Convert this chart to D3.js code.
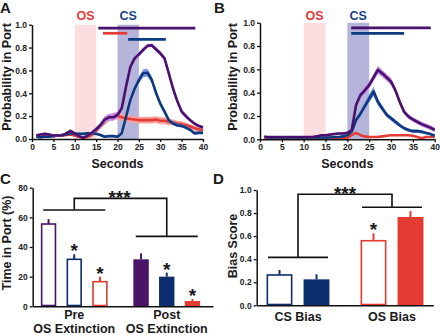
<!DOCTYPE html>
<html><head><meta charset="utf-8">
<script src="https://cdn.jsdelivr.net/npm/d3@7"></script>
<style>body{margin:0;background:#fff}svg{display:block}</style>
</head><body><svg id="c" width="440" height="335"></svg>
<script>
// ---------- DATA ----------
const seconds = [1,2,3,4,5,6,7,8,9,10,11,12,13,14,15,16,17,18,19,20,21,22,23,24,25,26,27,28,29,30,31,32,33,34,35,36,37,38,39,40];
const xTicks = [0,5,10,15,20,25,30,35,40];
const probTicks = [0,0.2,0.4,0.6,0.8,1.0];
const shadeLabels = ["OS","CS"];
const shadeStarts = [10,20];
const shadeEnds = [15,25];

// Panel A
const aPurple = [0.03,0.04,0.045,0.04,0.03,0.03,0.03,0.05,0.07,0.05,0.025,0.01,0.03,0.055,0.085,0.12,0.17,0.19,0.19,0.21,0.27,0.46,0.63,0.705,0.74,0.78,0.815,0.82,0.785,0.75,0.705,0.575,0.44,0.33,0.24,0.2,0.165,0.135,0.115,0.1];
const aPurpleSem = [0.01,0.01,0.01,0.01,0.01,0.01,0.01,0.01,0.015,0.01,0.01,0.01,0.01,0.015,0.02,0.025,0.03,0.03,0.03,0.03,0.03,0.03,0.025,0.02,0.02,0.02,0.015,0.015,0.02,0.02,0.02,0.02,0.025,0.02,0.02,0.02,0.015,0.015,0.015,0.015];
const aBlue = [0.02,0.015,0.02,0.02,0.025,0.03,0.035,0.04,0.05,0.045,0.045,0.045,0.05,0.05,0.045,0.035,0.02,0.025,0.025,0.02,0.05,0.195,0.34,0.44,0.515,0.575,0.58,0.52,0.405,0.31,0.24,0.165,0.135,0.12,0.115,0.1,0.08,0.05,0.055,0.055];
const aBlueSem = [0.01,0.01,0.01,0.01,0.01,0.01,0.01,0.01,0.01,0.01,0.01,0.01,0.01,0.01,0.01,0.01,0.01,0.01,0.01,0.01,0.01,0.015,0.02,0.025,0.03,0.035,0.035,0.03,0.025,0.02,0.02,0.015,0.015,0.015,0.015,0.015,0.015,0.015,0.015,0.015];
const aRed = [0.035,0.03,0.03,0.03,0.025,0.03,0.03,0.035,0.04,0.03,0.02,0.01,0.02,0.035,0.07,0.11,0.15,0.185,0.2,0.2,0.19,0.18,0.175,0.17,0.165,0.165,0.165,0.165,0.17,0.16,0.16,0.15,0.145,0.135,0.13,0.12,0.11,0.095,0.085,0.08];
const aRedSem = [0.01,0.01,0.01,0.01,0.01,0.01,0.01,0.01,0.01,0.01,0.01,0.01,0.01,0.01,0.015,0.02,0.025,0.03,0.03,0.03,0.03,0.03,0.03,0.03,0.03,0.03,0.03,0.03,0.03,0.03,0.03,0.03,0.025,0.025,0.025,0.025,0.02,0.02,0.02,0.02];
const aSigStart = [15.5,16.6,22.5];
const aSigEnd = [38.2,22.3,31.3];
const aSigLevel = [0.97,0.925,0.872];
const aSigSeries = ["purple","red","blue"];

// Panel B
const bPurple = [0.017,0.02,0.02,0.02,0.02,0.02,0.02,0.02,0.02,0.02,0.02,0.02,0.025,0.035,0.035,0.04,0.045,0.05,0.05,0.055,0.08,0.295,0.38,0.42,0.465,0.53,0.595,0.565,0.53,0.495,0.42,0.32,0.235,0.195,0.17,0.15,0.13,0.115,0.1,0.08];
const bPurpleSem = [0.008,0.008,0.008,0.008,0.008,0.008,0.008,0.008,0.008,0.008,0.008,0.008,0.008,0.008,0.008,0.008,0.008,0.01,0.01,0.01,0.01,0.02,0.025,0.03,0.03,0.03,0.035,0.03,0.03,0.03,0.025,0.025,0.02,0.02,0.02,0.02,0.02,0.02,0.02,0.02];
const bBlue = [0.025,0.015,0.015,0.015,0.015,0.015,0.015,0.015,0.015,0.015,0.015,0.015,0.015,0.015,0.015,0.015,0.02,0.02,0.025,0.035,0.065,0.165,0.22,0.285,0.35,0.41,0.32,0.265,0.21,0.18,0.15,0.12,0.095,0.08,0.07,0.07,0.065,0.055,0.045,0.03];
const bBlueSem = [0.008,0.008,0.008,0.008,0.008,0.008,0.008,0.008,0.008,0.008,0.008,0.008,0.008,0.008,0.008,0.008,0.008,0.008,0.008,0.008,0.01,0.02,0.025,0.03,0.035,0.04,0.03,0.025,0.02,0.02,0.02,0.015,0.015,0.015,0.015,0.015,0.015,0.01,0.01,0.01];
const bRed = [0.01,0.01,0.01,0.01,0.01,0.01,0.01,0.01,0.01,0.01,0.01,0.01,0.01,0.01,0.01,0.01,0.01,0.01,0.01,0.012,0.035,0.055,0.035,0.025,0.02,0.02,0.02,0.025,0.03,0.035,0.035,0.035,0.035,0.035,0.03,0.02,0.01,0.02,0.02,0.02];
const bRedSem = [0.006,0.006,0.006,0.006,0.006,0.006,0.006,0.006,0.006,0.006,0.006,0.006,0.006,0.006,0.006,0.006,0.006,0.006,0.006,0.006,0.006,0.006,0.006,0.006,0.006,0.006,0.006,0.006,0.006,0.006,0.006,0.006,0.006,0.006,0.006,0.006,0.006,0.006,0.006,0.006];
const bSigStart = [20.9,20.9];
const bSigEnd = [39.1,33.0];
const bSigLevel = [0.955,0.909];
const bSigSeries = ["purple","blue"];

// Panel C
const cGroups = ["Pre","Post"];
const cGroupSub = "OS Extinction";
const cSeries = ["purple","blue","red"];
const cPre = [55.5,31.7,16.6];
const cPreErr = [3.3,3.4,3.4];
const cPost = [31.7,20,3.6];
const cPostErr = [4,2.7,1.3];
const cPreStar = [false,true,true];
const cPostStar = [false,true,true];
const cTicks = [0,20,40,60,80];
const cBracketLevels = [65,47.2];
const cBracketTop = 72.8;

// Panel D
const dGroups = ["CS Bias","OS Bias"];
const dCats = ["pre","post"];
const dCS = [0.263,0.225];
const dCSErr = [0.043,0.044];
const dOS = [0.56,0.766];
const dOSErr = [0.064,0.052];
const dCSStar = [false,false];
const dOSStar = [true,false];
const dTicks = [0,0.2,0.4,0.6,0.8,1.0];
const dBracketLevels = [0.416,0.85];
const dBracketTop = 0.963;

// ---------- STYLE ----------
const FONT = '"Liberation Sans", Arial, Helvetica, sans-serif';
const col = {
  purple:{line:"#4a106e", band:"#c48ae8", bar:"#4a1468"},
  blue:{line:"#0d3a7e", band:"#7d93e6", bar:"#0d2e6e"},
  red:{line:"#e53b35", band:"#f5a3a0", bar:"#e33b31"}
};
const shadeColors = ["#fcdde0","#b5b4da"];
const shadeTextColors = ["#e8393a","#1b3f86"];

const svg = d3.select("#c");

function styleAxis(g){
  g.select(".domain").attr("stroke","#111").attr("stroke-width",1.5);
  g.selectAll(".tick line").attr("stroke","#111").attr("stroke-width",1.3);
  g.selectAll(".tick text").attr("font-size",8.5).attr("font-weight","bold")
    .attr("font-family",FONT).attr("fill","#222");
}
function txt(x,y,s,size,opts={}){
  const t = svg.append("text").attr("x",x).attr("y",y).text(s)
    .attr("font-family",FONT).attr("font-weight","bold").attr("font-size",size)
    .attr("fill",opts.fill||"#1a1a1a").attr("text-anchor",opts.anchor||"middle");
  if(opts.rotate) t.attr("transform",`rotate(-90,${x},${y})`);
  return t;
}

// ---------- LINE PANELS ----------
function linePanel(cfg){
  const x = d3.scaleLinear().domain([0,40]).range(cfg.xr);
  const y = d3.scaleLinear().domain([0,1]).range(cfg.yr);
  const g = svg.append("g");
  shadeStarts.forEach((s,i)=>{
    g.append("rect").attr("x",x(s)).attr("width",x(shadeEnds[i])-x(s))
      .attr("y",y(1)).attr("height",y(0)-y(1)).attr("fill",shadeColors[i]);
    txt((x(s)+x(shadeEnds[i]))/2, 20, shadeLabels[i], 12.5, {fill:shadeTextColors[i]});
  });
  cfg.series.forEach(s=>{
    const area = d3.area().x((d,i)=>x(seconds[i]))
      .y0((d,i)=>y(Math.max(0,s.v[i]-s.e[i]))).y1((d,i)=>y(s.v[i]+s.e[i]));
    g.append("path").datum(s.v).attr("d",area).attr("fill",col[s.key].band);
    const line = d3.line().x((d,i)=>x(seconds[i])).y(d=>y(d));
    g.append("path").datum(s.v).attr("d",line).attr("fill","none")
      .attr("stroke",col[s.key].line).attr("stroke-width",2.6).attr("stroke-linejoin","round");
  });
  cfg.sigStart.forEach((s,i)=>{
    g.append("line").attr("x1",x(s)).attr("x2",x(cfg.sigEnd[i]))
      .attr("y1",y(cfg.sigLevel[i])).attr("y2",y(cfg.sigLevel[i]))
      .attr("stroke",col[cfg.sigSeries[i]].line).attr("stroke-width",2.7);
  });
  const ya = g.append("g").attr("transform",`translate(${cfg.xr[0]},0)`)
    .call(d3.axisLeft(y).tickValues(probTicks).tickSize(3).tickSizeOuter(0).tickPadding(2).tickFormat(d3.format(".1f")));
  styleAxis(ya);
  const xa = g.append("g").attr("transform",`translate(0,${cfg.yr[0]})`)
    .call(d3.axisBottom(x).tickValues(xTicks).tickSize(3).tickSizeOuter(0).tickPadding(2));
  styleAxis(xa);
  txt((cfg.xr[0]+cfg.xr[1])/2, 168, "Seconds", 12.5);
  txt(cfg.titleX, 77, "Probability in Port", 12.5, {rotate:true});
}

linePanel({xr:[32,203], yr:[139,24.7], titleX:10.5,
  series:[{key:"red",v:aRed,e:aRedSem},{key:"blue",v:aBlue,e:aBlueSem},{key:"purple",v:aPurple,e:aPurpleSem}],
  sigStart:aSigStart, sigEnd:aSigEnd, sigLevel:aSigLevel, sigSeries:aSigSeries});
linePanel({xr:[260,434.7], yr:[139.3,22.7], titleX:237,
  series:[{key:"red",v:bRed,e:bRedSem},{key:"blue",v:bBlue,e:bBlueSem},{key:"purple",v:bPurple,e:bPurpleSem}],
  sigStart:bSigStart, sigEnd:bSigEnd, sigLevel:bSigLevel, sigSeries:bSigSeries});

// ---------- BAR PANELS ----------
function star(x,yBottom,s){
  return txt(x, yBottom + 0.39*19, s, 19);
}
function barPanel(cfg){
  const y = d3.scaleLinear().domain(cfg.ydom).range(cfg.yr);
  const xo = d3.scaleBand().domain(cfg.groups).range(cfg.bandRange);
  const xi = d3.scaleBand().domain(cfg.cats).range([0,xo.bandwidth()])
    .paddingInner(cfg.pin).paddingOuter(cfg.pout);
  const g = svg.append("g");
  cfg.groups.forEach((grp,gi)=>{
    const vals = cfg.values[gi], errs = cfg.errs[gi], stars = cfg.stars[gi];
    cfg.cats.forEach((c,ci)=>{
      const key = cfg.colorKey(gi,ci), filled = cfg.filled(gi,ci);
      const bx = xo(grp)+xi(c), bw = xi.bandwidth(), cx = bx+bw/2;
      const strokeCol = col[key].bar;
      g.append("line").attr("x1",cx).attr("x2",cx).attr("y1",y(vals[ci])).attr("y2",y(vals[ci]+errs[ci]))
        .attr("stroke",strokeCol).attr("stroke-width",2);
      if(filled){
        g.append("rect").attr("x",bx).attr("width",bw).attr("y",y(vals[ci])).attr("height",y(0)-y(vals[ci]))
          .attr("fill",strokeCol);
      } else {
        g.append("rect").attr("x",bx+0.8).attr("width",bw-1.6).attr("y",y(vals[ci])).attr("height",y(0)-y(vals[ci])-0.8)
          .attr("fill","#fff").attr("stroke",strokeCol).attr("stroke-width",1.6);
      }
      if(stars[ci]) star(cx, y(vals[ci]+errs[ci])-4.5, "*");
    });
  });
  const centers = cfg.groups.map(gr=>xo(gr)+xo.bandwidth()/2);
  const bk = d3.path();
  cfg.groups.forEach((gr,gi)=>{
    const yy = y(cfg.bLevels[gi]);
    bk.moveTo(centers[gi]-cfg.bHalf, yy); bk.lineTo(centers[gi]+cfg.bHalf, yy);
  });
  const yt = y(cfg.bTop);
  bk.moveTo(centers[0], y(cfg.bLevels[0])); bk.lineTo(centers[0], yt);
  bk.lineTo(centers[1], yt); bk.lineTo(centers[1], y(cfg.bLevels[1]));
  g.append("path").attr("d",bk.toString()).attr("fill","none").attr("stroke","#111").attr("stroke-width",1.6);
  star((centers[0]+centers[1])/2 + cfg.starShift, yt-2, "***");
  const ya = g.append("g").attr("transform",`translate(${cfg.axisX},0)`)
    .call(d3.axisLeft(y).tickValues(cfg.ticks).tickSize(3).tickSizeOuter(0).tickPadding(2).tickFormat(cfg.fmt));
  styleAxis(ya);
  const xl = d3.scaleLinear().range([cfg.axisX, cfg.axisEnd]);
  const xa = g.append("g").attr("transform",`translate(0,${cfg.yr[0]})`)
    .call(d3.axisBottom(xl).tickValues([]).tickSizeOuter(0));
  styleAxis(xa);
  cfg.groups.forEach((gr,gi)=>{
    txt(centers[gi], cfg.labelY, gr, 12.5);
    if(cfg.sub) txt(centers[gi], cfg.labelY+14, cfg.sub, 12.5);
  });
  txt(cfg.titleX, cfg.titleY, cfg.title, 12.5, {rotate:true});
}

barPanel({
  ydom:[0,80], yr:[306.3,187.7], groups:cGroups, cats:cSeries, bandRange:[28,213],
  pin:0.4, pout:0.5, values:[cPre,cPost], errs:[cPreErr,cPostErr], stars:[cPreStar,cPostStar],
  colorKey:(gi,ci)=>cSeries[ci], filled:(gi,ci)=>gi===1,
  bLevels:cBracketLevels, bTop:cBracketTop, bHalf:31, starShift:-1,
  axisX:32.7, axisEnd:213, ticks:cTicks, fmt:d3.format("d"),
  labelY:319, sub:cGroupSub, title:"Time in Port (%)", titleX:10.5, titleY:243
});
barPanel({
  ydom:[0,1], yr:[305.3,190], groups:dGroups, cats:dCats, bandRange:[251,439],
  pin:0.3, pout:0.42, values:[dCS,dOS], errs:[dCSErr,dOSErr], stars:[dCSStar,dOSStar],
  colorKey:(gi,ci)=>gi===0?"blue":"red", filled:(gi,ci)=>ci===1,
  bLevels:dBracketLevels, bTop:dBracketTop, bHalf:30, starShift:0,
  axisX:256.7, axisEnd:433.3, ticks:dTicks, fmt:d3.format(".1f"),
  labelY:321, sub:null, title:"Bias Score", titleX:237, titleY:246
});

txt(0,13,"A",15,{anchor:"start"});
txt(214,13,"B",15,{anchor:"start"});
txt(0,184,"C",15,{anchor:"start"});
txt(213,184,"D",15,{anchor:"start"});
</script></body></html>
